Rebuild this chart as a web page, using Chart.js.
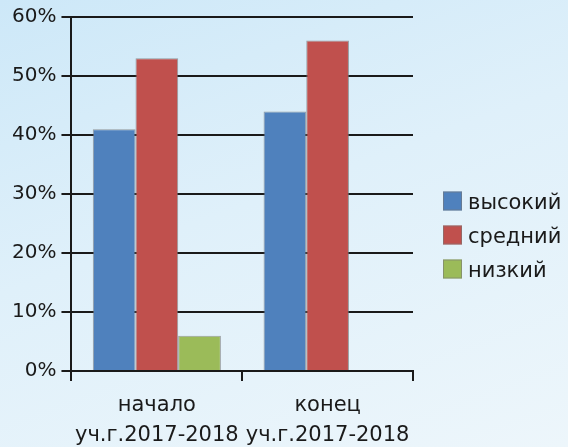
<!DOCTYPE html>
<html>
<head>
<meta charset="utf-8">
<script src="https://cdn.jsdelivr.net/npm/chart.js@4"></script>
<style>
  html, body { margin: 0; padding: 0; }
  body {
    width: 568px; height: 447px; overflow: hidden;
    background: linear-gradient(160deg, #cde8f8 0%, #dff0fa 45%, #edf6fb 100%);
  }
  #wrap { position: relative; width: 568px; height: 447px; }
</style>
</head>
<body>
<div id="wrap"><canvas id="chart" width="568" height="447"></canvas></div>
<script>
const CATEGORIES = [['начало', 'уч.г.2017-2018'], ['конец', 'уч.г.2017-2018']];
const SERIES_NAMES = ['высокий', 'средний', 'низкий'];
const HIGH = [41, 44];
const MID = [53, 56];
const LOW = [6, 0];
const Y_TICKS = [0, 10, 20, 30, 40, 50, 60];
const COLORS = ['#4f81bd', '#c0504d', '#9bbb59'];

const FONT = '"DejaVu Sans", "Noto Sans", sans-serif';
const ink = '#1a1a1a';

const datasets = [HIGH, MID, LOW].map((vals, i) => ({
  label: SERIES_NAMES[i],
  data: vals,
  backgroundColor: COLORS[i],
  borderColor: 'rgba(120,120,120,0.7)',
  borderWidth: 1,
  categoryPercentage: 0.75,
  barPercentage: 1
}));

// legend on the right, drawn from the datasets (built-in one gets squeezed)
const sideLegend = {
  id: 'sideLegend',
  afterDraw(chart) {
    const ctx = chart.ctx;
    const x = chart.chartArea.right + 30;
    const rowH = 34;
    const top = 201 - 9.5;
    ctx.save();
    ctx.font = '21px ' + FONT;
    ctx.textBaseline = 'alphabetic';
    ctx.textAlign = 'left';
    chart.data.datasets.forEach((ds, i) => {
      const y = top + i * rowH;
      ctx.fillStyle = ds.backgroundColor;
      ctx.fillRect(x, y, 19, 19);
      ctx.strokeStyle = 'rgba(120,120,120,0.6)';
      ctx.lineWidth = 1;
      ctx.strokeRect(x + 0.5, y + 0.5, 18, 18);
      ctx.fillStyle = ink;
      ctx.fillText(ds.label, x + 25, y + 9.5 + 7.5);
    });
    ctx.restore();
  }
};

new Chart(document.getElementById('chart'), {
  type: 'bar',
  data: { labels: CATEGORIES, datasets },
  plugins: [sideLegend],
  options: {
    responsive: false,
    animation: false,
    devicePixelRatio: 1,
    layout: { padding: { top: 3, right: 155, left: 7, bottom: -13 } },
    plugins: {
      tooltip: { enabled: false },
      legend: { display: false }
    },
    scales: {
      x: {
        offset: true,
        grid: {
          offset: true,
          drawOnChartArea: false,
          drawTicks: true,
          tickLength: 10,
          color: ink,
          lineWidth: 2
        },
        border: { color: ink, width: 2 },
        ticks: {
          color: ink,
          font: { family: FONT, size: 21, lineHeight: 1.45 },
          padding: 9,
          maxRotation: 0,
          autoSkip: false
        }
      },
      y: {
        min: 0,
        max: 60,
        afterBuildTicks: axis => { axis.ticks = Y_TICKS.map(v => ({ value: v })); },
        grid: {
          color: ink,
          lineWidth: 2,
          tickLength: 10
        },
        border: { color: ink, width: 2 },
        ticks: {
          color: ink,
          font: { family: FONT, size: 20 },
          padding: 5,
          callback: v => v + '%'
        }
      }
    }
  }
});
</script>
</body>
</html>
